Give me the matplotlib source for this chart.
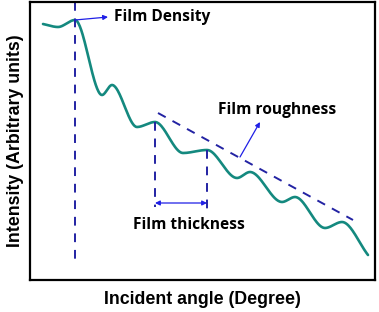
import numpy as np
import matplotlib.pyplot as plt

# key points of the reflectivity curve (angle, intensity)
angle = [13, 28, 45, 72, 82, 107, 125, 153, 177, 207, 220, 252, 265, 295, 312, 338]
intensity = [256, 253, 260, 185, 195, 153, 158, 127, 130, 102, 108, 78, 83, 52, 58, 25]

density_x = 45
fringe_x = [125, 177]
rough_x = [128, 323]
rough_y = [167, 60]

teal = '#14897f'
navy = '#2323a3'
blue = '#1f1fe6'


def smooth(xs, ys, n=40):
    # hermite pieces, flat at the extrema, secant slope at the two ends
    xs = np.asarray(xs, float)
    ys = np.asarray(ys, float)
    m = np.zeros(len(xs))
    m[0] = (ys[1] - ys[0]) / (xs[1] - xs[0])
    m[-1] = (ys[-1] - ys[-2]) / (xs[-1] - xs[-2])
    ox, oy = [], []
    for i in range(len(xs) - 1):
        h = xs[i + 1] - xs[i]
        t = np.linspace(0, 1, n)
        h00 = 2 * t**3 - 3 * t**2 + 1
        h10 = t**3 - 2 * t**2 + t
        h01 = -2 * t**3 + 3 * t**2
        h11 = t**3 - t**2
        ox.append(xs[i] + t * h)
        oy.append(h00 * ys[i] + h10 * h * m[i] + h01 * ys[i + 1] + h11 * h * m[i + 1])
    return np.concatenate(ox), np.concatenate(oy)


fig = plt.figure(figsize=(3.79, 3.12), dpi=100)
ax = fig.add_axes([30 / 379, 32 / 312, 345 / 379, 278 / 312])
ax.set_xlim(0, 345)
ax.set_ylim(0, 278)
ax.set_xticks([])
ax.set_yticks([])
for s in ax.spines.values():
    s.set_linewidth(1.6)

cx, cy = smooth(angle, intensity)
ax.plot(cx, cy, color=teal, lw=1.9, solid_capstyle='round')

dash = dict(color=navy, lw=1.4, dashes=(4.5, 4))
ax.plot([density_x, density_x], [278, 15], **dash)
ax.plot([fringe_x[0], fringe_x[0]], [158, 73], **dash)
ax.plot([fringe_x[1], fringe_x[1]], [130, 70], **dash)
ax.plot(rough_x, rough_y, **dash)

ann = dict(fontsize=11.2, fontweight='bold', family=['Open Sans', 'DejaVu Sans'])
ax.annotate('', xy=(fringe_x[1], 77), xytext=(fringe_x[0], 77),
            arrowprops=dict(arrowstyle='<|-|>', color=blue, lw=0.9,
                            mutation_scale=7, shrinkA=0, shrinkB=0))
ax.annotate('', xy=(78, 263), xytext=(density_x, 260),
            arrowprops=dict(arrowstyle='-|>', color=blue, lw=0.9,
                            mutation_scale=7, shrinkA=0, shrinkB=0))
ax.annotate('', xy=(230, 158), xytext=(210, 123),
            arrowprops=dict(arrowstyle='-|>', color=blue, lw=0.9,
                            mutation_scale=7, shrinkA=0, shrinkB=0))
ax.text(84, 263, 'Film Density', ha='left', va='center', **ann)
ax.text(247, 170, 'Film roughness', ha='center', va='center', **ann)
ax.text(159, 55, 'Film thickness', ha='center', va='center', **ann)

lab = dict(fontsize=12.8, fontweight='bold', family=['Liberation Sans', 'DejaVu Sans'])
ax.set_xlabel('Incident angle (Degree)', labelpad=8, **lab)
ax.set_ylabel('Intensity (Arbitrary units)', labelpad=4, **lab)

fig.savefig('out.png', dpi=100)
